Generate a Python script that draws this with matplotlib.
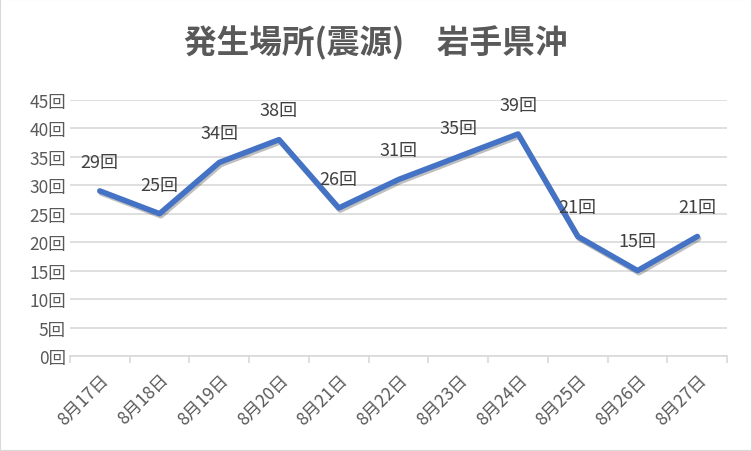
import matplotlib
matplotlib.use("Agg")
import matplotlib.pyplot as plt
import matplotlib.patheffects as pe

plt.rcParams['font.family'] = ['Noto Sans CJK JP', 'DejaVu Sans']

# data
dates = ['8月17日', '8月18日', '8月19日', '8月20日', '8月21日', '8月22日',
         '8月23日', '8月24日', '8月25日', '8月26日', '8月27日']
counts = [29, 25, 34, 38, 26, 31, 35, 39, 21, 15, 21]
yticks = [0, 5, 10, 15, 20, 25, 30, 35, 40, 45]

fig = plt.figure(figsize=(7.52, 4.52), dpi=100)
fig.patches.append(plt.Rectangle((0, 0), 1, 1, transform=fig.transFigure,
                                 fill=False, edgecolor='#D9D9D9', linewidth=1.5))
ax = fig.add_axes([0.093, 0.21, 0.874, 0.567])

x = list(range(len(dates)))
ax.plot(x, counts, color='#4472C4', linewidth=4, solid_capstyle='round',
        path_effects=[pe.SimpleLineShadow(offset=(1, -1.5), alpha=0.25), pe.Normal()])

for xi, v in zip(x, counts):
    ax.annotate(f'{v}回', (xi, v), xytext=(0, 21), textcoords='offset points',
                ha='center', va='center', fontsize=13, color='#404040')

ax.set_xlim(-0.5, len(dates) - 0.5)
ax.set_ylim(0, 45)
ax.set_yticks(yticks)
ax.set_yticklabels([f'{t}回' for t in yticks], fontsize=12.5, color='#595959')
ax.yaxis.grid(True, color='#D9D9D9', linewidth=1.2)
ax.set_axisbelow(True)
ax.tick_params(axis='y', length=0, pad=3)

ax.set_xticks(x)
ax.set_xticklabels(dates, rotation=45, ha='right', rotation_mode='anchor',
                   fontsize=12.5, color='#595959')
ax.set_xticks([i - 0.5 for i in range(len(dates) + 1)], minor=True)
ax.tick_params(axis='x', which='major', length=0, pad=10)
ax.tick_params(axis='x', which='minor', length=5, color='#D9D9D9', width=1.2)

for s in ['top', 'right', 'left']:
    ax.spines[s].set_visible(False)
ax.spines['bottom'].set_color('#D9D9D9')
ax.spines['bottom'].set_linewidth(1.2)

fig.text(0.5, 0.905, '発生場所(震源)\u3000岩手県沖', ha='center', va='center',
         fontsize=23.5, color='#595959', fontweight='bold')

fig.savefig('out.png', dpi=100)
